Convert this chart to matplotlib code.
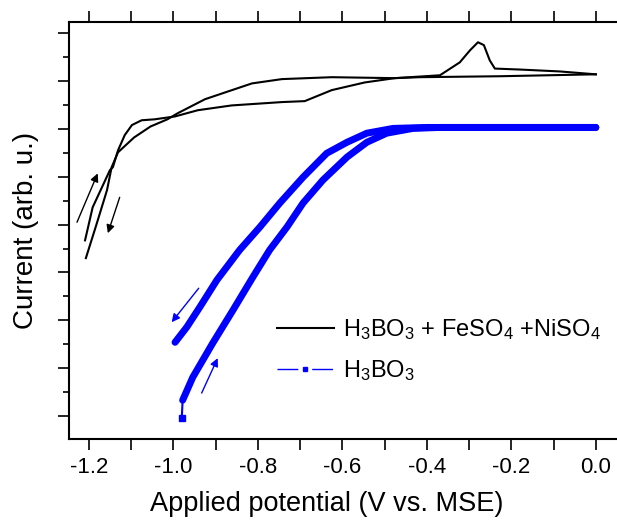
import numpy as np
import matplotlib.pyplot as plt
from matplotlib.lines import Line2D

plt.rcParams['font.family'] = ['Liberation Sans', 'DejaVu Sans']
plt.rcParams['mathtext.default'] = 'regular'

# black CV: cathodic sweep (0 -> -1.21 V)
fe_down_x = [0.0, -0.227, -0.417, -0.476, -0.547, -0.625, -0.689, -0.743, -0.862,
             -0.942, -0.996, -1.044, -1.075, -1.098, -1.115, -1.131, -1.143,
             -1.150, -1.191, -1.209]
fe_down_y = [7.14, 7.10, 7.08, 7.06, 6.97, 6.81, 6.58, 6.56, 6.49,
             6.39, 6.26, 6.20, 6.18, 6.08, 5.87, 5.55, 5.20,
             5.14, 4.36, 3.67]
# black CV: anodic sweep back to 0 V (with stripping peak)
fe_up_x = [-1.207, -1.181, -1.157, -1.146, -1.131, -1.093, -1.054, -1.014, -0.989,
           -0.925, -0.878, -0.814, -0.743, -0.625, -0.476, -0.369, -0.322, -0.298,
           -0.279, -0.265, -0.251, -0.239, -0.180, -0.085, 0.0]
fe_up_y = [3.30, 4.03, 4.72, 5.20, 5.51, 5.82, 6.05, 6.20, 6.33,
           6.62, 6.76, 6.95, 7.04, 7.08, 7.06, 7.12, 7.39, 7.64,
           7.81, 7.75, 7.43, 7.26, 7.24, 7.20, 7.14]

# blue CV (H3BO3 only)
b_upper_x = [-0.996, -0.968, -0.937, -0.897, -0.843, -0.795, -0.748, -0.693,
             -0.637, -0.589, -0.542, -0.480, -0.400, 0.0]
b_upper_y = [1.54, 1.86, 2.28, 2.84, 3.47, 3.95, 4.45, 4.99,
             5.49, 5.72, 5.91, 6.01, 6.03, 6.03]
b_lower_x = [-0.980, -0.978, -0.954, -0.907, -0.859, -0.812, -0.772, -0.731,
             -0.693, -0.646, -0.589, -0.542, -0.495, -0.433, -0.369, 0.0]
b_lower_y = [-0.04, 0.33, 0.81, 1.52, 2.21, 2.90, 3.47, 3.95,
             4.45, 4.93, 5.41, 5.72, 5.91, 6.01, 6.03, 6.03]

blue = '#0000ff'

fig = plt.figure(figsize=(6.17, 5.25), dpi=100)
ax = fig.add_axes([0.1118, 0.1638, 0.895, 0.794])

ax.plot(fe_down_x, fe_down_y, color='black', lw=1.5)
ax.plot(fe_up_x, fe_up_y, color='black', lw=1.5)

ax.plot(b_upper_x, b_upper_y, color=blue, lw=5, solid_capstyle='round')
ax.plot(b_lower_x[1:], b_lower_y[1:], color=blue, lw=5, solid_capstyle='round')
ax.plot(b_lower_x[:2], b_lower_y[:2], color=blue, lw=1.5, marker='s',
        markersize=5, markevery=[0])

# sweep direction arrows
def arrow(x0, y0, x1, y1, c):
    ax.annotate('', xy=(x1, y1), xytext=(x0, y0),
                arrowprops=dict(arrowstyle='-|>', color=c, lw=1.0,
                                mutation_scale=12, shrinkA=0, shrinkB=0))

arrow(-1.228, 4.05, -1.179, 5.07, 'black')
arrow(-1.127, 4.57, -1.155, 3.82, 'black')
arrow(-0.940, 2.67, -1.004, 1.96, blue)
arrow(-0.933, 0.48, -0.895, 1.21, blue)

ax.set_xlim(-1.247, 0.06)
ax.set_ylim(-0.48, 8.23)
ax.set_xticks(np.arange(-1.2, 0.01, 0.2))
ax.set_xticks(np.arange(-1.2, 0.01, 0.1), minor=True)
ax.set_xticklabels(['-1.2', '-1.0', '-0.8', '-0.6', '-0.4', '-0.2', '0.0'])
ax.set_yticks(np.arange(0, 9, 1))
ax.set_yticks(np.arange(0.5, 8, 1), minor=True)
ax.set_yticklabels([])
ax.tick_params(which='both', direction='out', top=True, right=False,
               width=1.2, labelsize=16)
ax.tick_params(which='major', length=8)
ax.tick_params(which='minor', length=4)
ax.tick_params(axis='x', which='minor', top=True, length=8)
ax.tick_params(axis='x', which='major', pad=5)
ax.spines['right'].set_visible(False)
for s in ['left', 'bottom', 'top']:
    ax.spines[s].set_linewidth(1.5)

ax.set_xlabel('Applied potential (V vs. MSE)', fontsize=19.5)
ax.xaxis.set_label_coords(0.466, -0.125)
ax.set_ylabel('Current (arb. u.)', fontsize=20, labelpad=10)

handles = [Line2D([], [], color='black', lw=1.5),
           Line2D([], [], color=blue, lw=1, linestyle=(0, (15, 4, 2, 4)),
                  marker='s', markersize=3)]
labels = ['H$_3$BO$_3$ + FeSO$_4$ +NiSO$_4$', 'H$_3$BO$_3$']
ax.legend(handles, labels, loc='upper left', bbox_to_anchor=(0.377, 0.293),
          frameon=False, fontsize=17, handlelength=2.4, handletextpad=0.4,
          borderpad=0, borderaxespad=0, labelspacing=0.7, numpoints=1)

fig.savefig('out.png', dpi=100)
